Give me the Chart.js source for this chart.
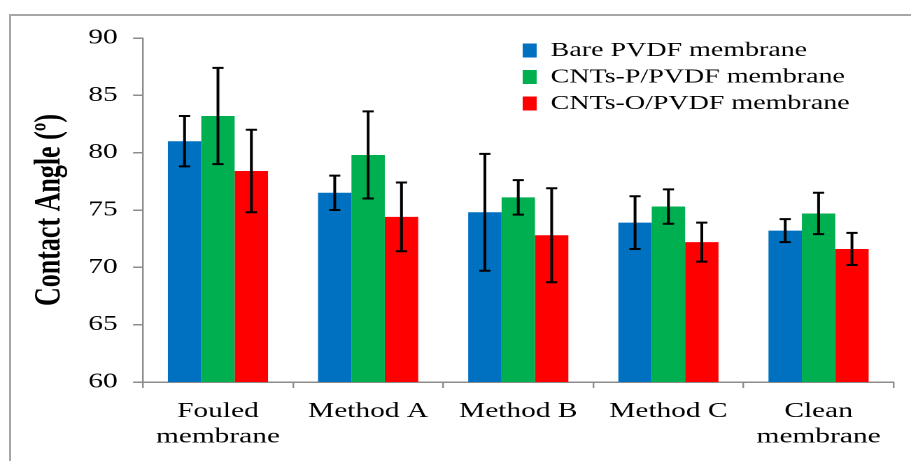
<!DOCTYPE html>
<html>
<head>
<meta charset="utf-8">
<script src="https://cdn.jsdelivr.net/npm/chart.js@4"></script>
<style>
  body { margin: 0; background: #fff; overflow: hidden; }
  #wrap { position: relative; width: 911px; height: 461px; overflow: hidden; }
  #frame { position: absolute; left: 9px; top: 14px; width: 1000px; height: 1000px;
           border-top: 2px solid #a6a6a6; border-left: 2px solid #a6a6a6; }
  /* the original figure is stretched sideways, so stretch the canvas the same way */
  #myChart { position: absolute; left: 0; top: 0; transform: scaleX(1.39939); transform-origin: 0 0; }
</style>
</head>
<body>
<div id="wrap">
  <div id="frame"></div>
  <canvas id="myChart" width="651" height="461"></canvas>
</div>
<script>
const categories = [["Fouled", "membrane"], "Method A", "Method B", "Method C", ["Clean", "membrane"]];
const bareValues = [81.0, 76.5, 74.8, 73.9, 73.2];
const bareErrors = [2.2, 1.5, 5.1, 2.3, 1.0];
const cntsPValues = [83.2, 79.8, 76.1, 75.3, 74.7];
const cntsPErrors = [4.2, 3.8, 1.5, 1.5, 1.8];
const cntsOValues = [78.4, 74.4, 72.8, 72.2, 71.6];
const cntsOErrors = [3.6, 3.0, 4.1, 1.7, 1.4];
const yTicks = [60, 65, 70, 75, 80, 85, 90];

const serif = "'Liberation Serif', 'Times New Roman', serif";
const axisGray = "#8c8c8c";

// error bars drawn from each bar element
const errorBars = {
  id: "errorBars",
  afterDatasetsDraw(chart) {
    const { ctx } = chart;
    const y = chart.scales.y;
    ctx.save();
    ctx.strokeStyle = "#000";
    ctx.lineWidth = 2;
    chart.data.datasets.forEach((ds, i) => {
      const meta = chart.getDatasetMeta(i);
      meta.data.forEach((bar, j) => {
        const v = ds.data[j];
        const e = ds.errors[j];
        const top = y.getPixelForValue(v + e);
        const bot = y.getPixelForValue(v - e);
        ctx.beginPath();
        ctx.moveTo(bar.x, top);
        ctx.lineTo(bar.x, bot);
        ctx.moveTo(bar.x - 4, top);
        ctx.lineTo(bar.x + 4, top);
        ctx.moveTo(bar.x - 4, bot);
        ctx.lineTo(bar.x + 4, bot);
        ctx.stroke();
      });
    });
    ctx.restore();
  },
};

// put the legend in the upper right of the plot
const legendPlace = {
  id: "legendPlace",
  afterLayout(chart) {
    const lg = chart.legend;
    if (!lg) return;
    lg.left = 367;
    lg.top = 34;
    lg.right = lg.left + lg.width;
    lg.bottom = lg.top + lg.height;
  },
};

new Chart(document.getElementById("myChart"), {
  type: "bar",
  data: {
    labels: categories,
    datasets: [
      { label: "Bare PVDF membrane", data: bareValues, errors: bareErrors, backgroundColor: "#0070C0" },
      { label: "CNTs-P/PVDF membrane", data: cntsPValues, errors: cntsPErrors, backgroundColor: "#00B050" },
      { label: "CNTs-O/PVDF membrane", data: cntsOValues, errors: cntsOErrors, backgroundColor: "#FF0000" },
    ],
  },
  plugins: [errorBars, legendPlace],
  options: {
    responsive: false,
    animation: false,
    devicePixelRatio: 2,
    datasets: { bar: { categoryPercentage: 0.667, barPercentage: 1.0 } },
    layout: { padding: { left: 10, right: 12.4, top: 38, bottom: 5 } },
    plugins: {
      legend: {
        position: "chartArea",
        align: "start",
        labels: {
          boxWidth: 10,
          boxHeight: 14,
          padding: 6.5,
          color: "#000",
          font: { family: serif, size: 20 },
        },
      },
      tooltip: { enabled: false },
    },
    scales: {
      x: {
        border: { color: axisGray, width: 1.5 },
        grid: { display: true, drawOnChartArea: false, tickLength: 6, color: axisGray, lineWidth: 1.2 },
        ticks: { color: "#000", padding: 11, maxRotation: 0, autoSkip: false,
                 font: { family: serif, size: 21, lineHeight: 1.2 } },
        afterFit: (s) => { s.height = 74; },
      },
      y: {
        min: 60,
        max: 90,
        afterBuildTicks: (s) => { s.ticks = yTicks.map((v) => ({ value: v })); },
        border: { color: axisGray, width: 1.2 },
        grid: { display: true, drawOnChartArea: false, tickLength: 7, color: axisGray, lineWidth: 1.5 },
        ticks: { color: "#000", padding: 11, font: { family: serif, size: 21 } },
        title: {
          display: true,
          text: "Contact Angle (º)",
          color: "#000",
          padding: { top: 10, bottom: 0 },
          font: { family: serif, size: 26, weight: "bold" },
        },
        afterFit: (s) => { s.width = 92.1; },
      },
    },
  },
});
</script>
</body>
</html>
